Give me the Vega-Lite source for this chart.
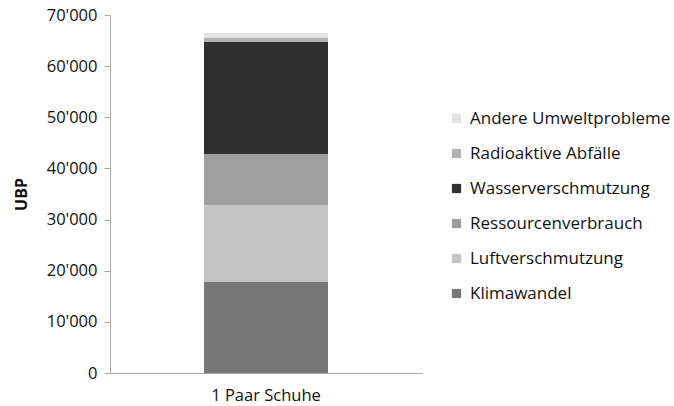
{
  "$schema": "https://vega.github.io/schema/vega-lite/v6.json",
  "autosize": {"type": "none"},
  "width": 312,
  "height": 358,
  "padding": {"left": 110, "top": 15, "right": 252, "bottom": 33},
  "background": "white",
  "config": {
    "locale": {"number": {"decimal": ".", "thousands": "'", "grouping": [3], "currency": ["", ""]}},
    "view": {"stroke": null},
    "font": "Open Sans"
  },
  "data": {
    "values": [
      {"product": "1 Paar Schuhe", "category": "Klimawandel", "rank": 1, "value": 17800},
      {"product": "1 Paar Schuhe", "category": "Luftverschmutzung", "rank": 2, "value": 15000},
      {"product": "1 Paar Schuhe", "category": "Ressourcenverbrauch", "rank": 3, "value": 10000},
      {"product": "1 Paar Schuhe", "category": "Wasserverschmutzung", "rank": 4, "value": 21900},
      {"product": "1 Paar Schuhe", "category": "Radioaktive Abfälle", "rank": 5, "value": 800},
      {"product": "1 Paar Schuhe", "category": "Andere Umweltprobleme", "rank": 6, "value": 1000}
    ]
  },
  "mark": {"type": "bar", "width": 124},
  "encoding": {
    "x": {
      "field": "product",
      "type": "nominal",
      "scale": {"paddingInner": 0, "paddingOuter": 0},
      "axis": {
        "title": null,
        "labelAngle": 0,
        "labelFont": "Open Sans",
        "labelFontSize": 16.5,
        "labelColor": "#111111",
        "labelPadding": 14,
        "domainColor": "#a6a6a6",
        "ticks": false
      }
    },
    "y": {
      "field": "value",
      "type": "quantitative",
      "stack": "zero",
      "scale": {"domain": [0, 70000], "nice": false},
      "axis": {
        "title": "UBP",
        "titleFont": "Open Sans",
        "titleFontSize": 16,
        "titleFontWeight": "bold",
        "titleColor": "#111111",
        "titlePadding": 17,
        "values": [0, 10000, 20000, 30000, 40000, 50000, 60000, 70000],
        "format": ",d",
        "labelFont": "Open Sans",
        "labelFontSize": 16.5,
        "labelColor": "#111111",
        "labelPadding": 7,
        "domainColor": "#a6a6a6",
        "tickColor": "#a6a6a6",
        "tickSize": 6,
        "grid": false
      }
    },
    "color": {
      "field": "category",
      "type": "nominal",
      "scale": {
        "domain": ["Andere Umweltprobleme", "Radioaktive Abfälle", "Wasserverschmutzung", "Ressourcenverbrauch", "Luftverschmutzung", "Klimawandel"],
        "range": ["#e2e2e2", "#b2b2b2", "#303030", "#9f9f9f", "#c4c4c4", "#777777"]
      },
      "legend": {
        "title": null,
        "orient": "none",
        "legendX": 338,
        "legendY": 95,
        "symbolType": "square",
        "symbolSize": 85,
        "symbolStrokeWidth": 0,
        "labelFont": "Open Sans",
        "labelFontSize": 17,
        "labelColor": "#111111",
        "labelOffset": 5,
        "rowPadding": 17,
        "labelLimit": 300
      }
    },
    "order": {"field": "rank", "type": "quantitative"}
  }
}
